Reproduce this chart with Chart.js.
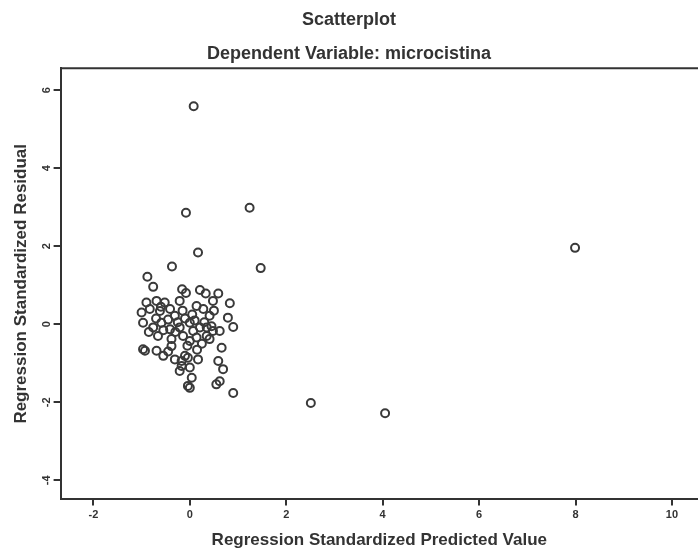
<!DOCTYPE html>
<html>
<head>
<meta charset="utf-8">
<script src="https://cdn.jsdelivr.net/npm/chart.js@4/dist/chart.umd.min.js"></script>
<style>
html,body{margin:0;padding:0;background:#fff;}
#wrap{width:698px;height:551px;position:relative;}
</style>
</head>
<body>
<div id="wrap"><canvas id="c" width="698" height="551"></canvas></div>
<script>
// Regression standardized predicted values (x) and residuals (y)
const predicted = [
  0.08, -0.08, 1.24, 0.17, 1.47, 7.99, -0.37, 2.51, 4.05, 0.90,
  -0.88, -0.76, -0.16, -0.08, 0.21, 0.33, 0.59, 0.48, 0.83, -0.90,
  -0.69, -0.52, -0.21, -0.83, -1.00, -0.62, -0.41, -0.31, 0.14, 0.28,
  0.41, 0.79, 0.90, -0.97, -0.76, -0.59, -0.41, -0.21, 0.00, 0.07,
  0.21, 0.35, 0.48, 0.62, -0.66, -0.38, -0.14, 0.00, 0.14, 0.35,
  0.41, 0.66, -0.97, -0.93, -0.69, -0.55, -0.38, -0.31, -0.17, -0.10,
  -0.04, -0.17, -0.21, 0.00, 0.17, 0.59, 0.69, 0.04, -0.04, 0.00,
  0.55, 0.62,
  -0.45, -0.25, -0.10, 0.05, -0.55, -0.30, 0.10, -0.70, -0.05, 0.25,
  -0.45, 0.30, -0.15, 0.45, -0.85, 0.15, -0.60, 0.50
];
const residual = [
  5.59, 2.86, 2.99, 1.84, 1.44, 1.96, 1.48, -2.02, -2.28, -1.76,
  1.22, 0.96, 0.90, 0.80, 0.88, 0.79, 0.79, 0.60, 0.54, 0.56,
  0.60, 0.56, 0.60, 0.39, 0.30, 0.34, 0.39, 0.22, 0.47, 0.39,
  0.22, 0.17, -0.07, 0.04, -0.08, 0.04, -0.13, -0.08, 0.04, -0.17,
  -0.08, -0.08, -0.17, -0.17, -0.30, -0.38, -0.30, -0.43, -0.34, -0.30,
  -0.38, -0.60, -0.64, -0.68, -0.68, -0.81, -0.56, -0.90, -0.94, -0.81,
  -0.86, -1.07, -1.20, -1.11, -0.90, -0.94, -1.15, -1.37, -1.58, -1.63,
  -1.54, -1.46,
  0.12, 0.05, 0.15, 0.25, -0.15, -0.20, 0.10, 0.15, -0.55, -0.50,
  -0.70, 0.05, 0.35, -0.05, -0.20, -0.65, 0.45, 0.35
];
const xTicks = [-2, 0, 2, 4, 6, 8, 10];
const yTicks = [-4, -2, 0, 2, 4, 6];

const chartTitle = 'Scatterplot';
const chartSubtitle = 'Dependent Variable: microcistina';
const xTitle = 'Regression Standardized Predicted Value';
const yTitle = 'Regression Standardized Residual';

const points = predicted.map((v, i) => ({x: v, y: residual[i]}));
const FONT = '"Liberation Sans", Arial, sans-serif';
const INK = '#333333';

const topBorder = {
  id: 'topBorder',
  afterDraw(chart) {
    const a = chart.chartArea, ctx = chart.ctx;
    ctx.save();
    ctx.strokeStyle = INK;
    ctx.lineWidth = 2;
    ctx.beginPath();
    ctx.moveTo(a.left, a.top);
    ctx.lineTo(chart.width, a.top);
    ctx.stroke();
    ctx.restore();
  }
};

new Chart(document.getElementById('c'), {
  type: 'scatter',
  data: {
    datasets: [{
      data: points,
      pointRadius: 4,
      pointHoverRadius: 4,
      pointBorderWidth: 2,
      pointBorderColor: '#3a3a3a',
      pointBackgroundColor: 'rgba(0,0,0,0)'
    }]
  },
  options: {
    responsive: false,
    animation: false,
    layout: {autoPadding: false, padding: {left: 0, right: 0, top: 0, bottom: 0}},
    plugins: {
      legend: {display: false},
      tooltip: {enabled: false},
      title: {
        display: true,
        text: chartTitle,
        color: INK,
        font: {family: FONT, size: 18, weight: 'bold'},
        padding: {top: 9, bottom: 0}
      },
      subtitle: {
        display: true,
        text: chartSubtitle,
        color: INK,
        font: {family: FONT, size: 18, weight: 'bold'},
        padding: {top: 13, bottom: 3}
      }
    },
    scales: {
      x: {
        type: 'linear',
        min: -2.68,
        max: 10.54,
        afterBuildTicks: s => { s.ticks = xTicks.map(v => ({value: v})); },
        afterFit: s => { s.paddingRight = 0; s.paddingLeft = 0; },
        grid: {drawOnChartArea: false, drawTicks: true, tickLength: 6, color: INK, lineWidth: 2},
        border: {display: true, color: INK, width: 2},
        ticks: {
          color: INK, padding: 3, maxRotation: 0, minRotation: 0,
          font: {family: FONT, size: 11, weight: 'bold'}
        },
        title: {
          display: true, text: xTitle, color: INK,
          font: {family: FONT, size: 17, weight: 'bold'},
          padding: {top: 6, bottom: 0}
        }
      },
      y: {
        type: 'linear',
        min: -4.49,
        max: 6.566,
        afterBuildTicks: s => { s.ticks = yTicks.map(v => ({value: v})); },
        grid: {drawOnChartArea: false, drawTicks: true, tickLength: 7, color: INK, lineWidth: 2},
        border: {display: true, color: INK, width: 2},
        ticks: {
          color: INK, padding: 2, minRotation: 90, maxRotation: 90, crossAlign: 'center',
          font: {family: FONT, size: 11, weight: 'bold'}
        },
        title: {
          display: true, text: yTitle, color: INK,
          font: {family: FONT, size: 17, weight: 'bold'},
          padding: {top: 11, bottom: 5}
        }
      }
    }
  },
  plugins: [topBorder]
});
</script>
</body>
</html>
